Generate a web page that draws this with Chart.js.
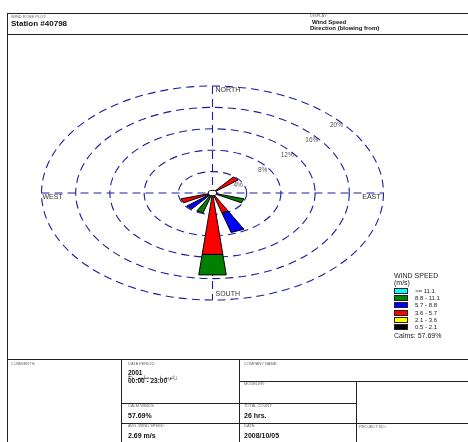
<!DOCTYPE html>
<html>
<head>
<meta charset="utf-8">
<script src="https://cdn.jsdelivr.net/npm/chart.js@4.4.1/dist/chart.umd.min.js"></script>
<style>
html,body{margin:0;padding:0;background:#fff;}
#wrap{position:relative;width:468px;height:442px;overflow:hidden;font-family:"Liberation Sans",Arial,sans-serif;}
#c{position:absolute;left:0;top:0;}
.ln{position:absolute;background:#222;}
.t{position:absolute;white-space:nowrap;line-height:1;transform:translateY(-50%);}
.tiny{font-size:4px;color:#666;}
.val{font-size:7px;font-weight:bold;color:#111;}
.hb{font-weight:bold;color:#111;}
.box{position:absolute;width:12px;height:4px;border:1px solid #222;}
</style>
</head>
<body>
<div id="wrap">
<canvas id="c" width="468" height="442"></canvas>

<!-- frame lines -->
<div class="ln" style="left:7px;top:13px;width:461px;height:1px"></div>
<div class="ln" style="left:7px;top:34px;width:461px;height:1px"></div>
<div class="ln" style="left:7px;top:13px;width:1px;height:429px"></div>
<div class="ln" style="left:7px;top:359px;width:461px;height:1px"></div>
<div class="ln" style="left:121px;top:359px;width:1px;height:83px"></div>
<div class="ln" style="left:239px;top:359px;width:1px;height:83px"></div>
<div class="ln" style="left:356px;top:381px;width:1px;height:61px"></div>
<div class="ln" style="left:239px;top:381px;width:229px;height:1px"></div>
<div class="ln" style="left:121px;top:403px;width:235px;height:1px"></div>
<div class="ln" style="left:121px;top:423px;width:347px;height:1px"></div>

<!-- header -->
<div class="t tiny" style="left:11px;top:16.5px">WIND ROSE PLOT:</div>
<div class="t hb" style="left:11px;top:24px;font-size:8px">Station #40798</div>
<div class="t tiny" style="left:310px;top:16px">DISPLAY:</div>
<div class="t hb" style="left:312px;top:22.3px;font-size:6px">Wind Speed</div>
<div class="t hb" style="left:310px;top:27.5px;font-size:6px">Direction (blowing from)</div>

<!-- footer -->
<div class="t tiny" style="left:11px;top:364px">COMMENTS:</div>
<div class="t tiny" style="left:128px;top:364px">DATA PERIOD:</div>
<div class="t val" style="left:128px;top:372.5px;font-size:6.5px">2001</div>
<div class="t" style="left:128px;top:377.2px;font-size:5px;color:#222;font-family:'DejaVu Sans',sans-serif;word-spacing:1.5px"><span dir="rtl">ژانویه ۱ - دسامبر ۳۱</span></div>
<div class="t val" style="left:128px;top:381.2px;font-size:6.5px">00:00 - 23:00</div>
<div class="t tiny" style="left:244px;top:364px">COMPANY NAME:</div>
<div class="t tiny" style="left:244px;top:384px">MODELER:</div>
<div class="t tiny" style="left:128px;top:406px">CALM WINDS:</div>
<div class="t val" style="left:128px;top:415px">57.69%</div>
<div class="t tiny" style="left:244px;top:406px">TOTAL COUNT:</div>
<div class="t val" style="left:244px;top:415px">26 hrs.</div>
<div class="t tiny" style="left:128px;top:426px">AVG. WIND SPEED:</div>
<div class="t val" style="left:128px;top:435px">2.69 m/s</div>
<div class="t tiny" style="left:244px;top:426px">DATE:</div>
<div class="t val" style="left:244px;top:435px">2008/10/05</div>
<div class="t tiny" style="left:359px;top:427px">PROJECT NO.:</div>

<div id="legend"></div>
</div>

<script>
// ---------- data ----------
const directions = ['N','NNE','NE','ENE','E','ESE','SE','SSE','S','SSW','SW','WSW','W','WNW','NW','NNW'];
const speedBins  = ['0.5 - 2.1','2.1 - 3.6','3.6 - 5.7','5.7 - 8.8','8.8 - 11.1','>= 11.1'];
const binColors  = ['#000000','#ffff00','#ff0000','#0000ff','#008000','#00ffff'];
// frequency (%) per direction, one array per speed class
const freq_0_5_2_1  = [0,0,0,0,0,0,0,0,0,0,0,0,0,0,0,0];
const freq_2_1_3_6  = [0,0,0,0,0,0,0,0,0,0,0,0,0,0,0,0];
const freq_3_6_5_7  = [0,0,3.85,0,0,0,0,3.85,11.54,0,0,3.85,0,0,0,0];
const freq_5_7_8_8  = [0,0,0,0,0,0,0,3.85,0,0,3.85,0,0,0,0,0];
const freq_8_8_11_1 = [0,0,0,0,0,3.85,0,0,3.85,3.85,0,0,0,0,0,0];
const freq_ge_11_1  = [0,0,0,0,0,0,0,0,0,0,0,0,0,0,0,0];
const ringValues = [4,8,12,16,20];
const ringLabels = ['4%','8%','12%','16%','20%'];
const compassLabels = ['NORTH','EAST','SOUTH','WEST'];
const calmsText = 'Calms: 57.69%';

const binFreqs = [freq_0_5_2_1, freq_2_1_3_6, freq_3_6_5_7, freq_5_7_8_8, freq_8_8_11_1, freq_ge_11_1];

// ---------- build wedge datasets ----------
const HALF = 6 * Math.PI / 180;
function pt(r, a){ return {x: r*Math.sin(a), y: r*Math.cos(a)}; }
const datasets = [];
directions.forEach((d, i) => {
  const a = i * 22.5 * Math.PI / 180;
  let r0 = 0;
  binFreqs.forEach((arr, b) => {
    const v = arr[i];
    if (!v) return;
    const r1 = r0 + v;
    let poly;
    if (r0 === 0) poly = [pt(0,a), pt(r1,a-HALF), pt(r1,a+HALF), pt(0,a)];
    else poly = [pt(r0,a-HALF), pt(r1,a-HALF), pt(r1,a+HALF), pt(r0,a+HALF), pt(r0,a-HALF)];
    datasets.push({
      label: d + ' ' + speedBins[b],
      data: poly,
      fill: 'shape',
      backgroundColor: binColors[b],
      borderColor: '#000',
      borderWidth: 1,
      pointRadius: 0,
      tension: 0
    });
    r0 = r1;
  });
});

// ---------- overlay plugin: rings, axes, labels ----------
const rosePlugin = {
  id: 'rose',
  beforeDatasetsDraw(chart){
    const {ctx, scales:{x, y}} = chart;
    const cx = x.getPixelForValue(0), cy = y.getPixelForValue(0);
    const rmax = ringValues[ringValues.length-1];
    ctx.save();
    ctx.strokeStyle = '#1c1ca0';
    ctx.lineWidth = 1.1;
    ctx.setLineDash([8,5]);
    ringValues.forEach(r => {
      ctx.beginPath();
      ctx.ellipse(cx, cy, x.getPixelForValue(r)-cx, cy-y.getPixelForValue(r), 0, 0, Math.PI*2);
      ctx.stroke();
    });
    ctx.beginPath();
    ctx.moveTo(x.getPixelForValue(-rmax), cy); ctx.lineTo(x.getPixelForValue(rmax), cy);
    ctx.moveTo(cx, y.getPixelForValue(rmax)); ctx.lineTo(cx, y.getPixelForValue(-rmax));
    ctx.stroke();
    ctx.restore();
  },
  afterDatasetsDraw(chart){
    const {ctx, scales:{x, y}} = chart;
    const cx = x.getPixelForValue(0), cy = y.getPixelForValue(0);
    const rmax = ringValues[ringValues.length-1];
    ctx.save();
    // calm circle
    ctx.beginPath();
    ctx.ellipse(cx, cy, x.getPixelForValue(0.5)-cx, cy-y.getPixelForValue(0.5), 0, 0, Math.PI*2);
    ctx.fillStyle = '#fff'; ctx.fill();
    ctx.strokeStyle = '#000'; ctx.lineWidth = 1; ctx.stroke();
    // ring labels
    ctx.font = '6.5px "Liberation Sans", Arial, sans-serif';
    ctx.fillStyle = '#555';
    ctx.textAlign = 'center'; ctx.textBaseline = 'top';
    ringValues.forEach((r, k) => {
      const px = x.getPixelForValue(r*Math.SQRT1_2), py = y.getPixelForValue(r*Math.SQRT1_2);
      ctx.fillText(ringLabels[k], px + 1 + r/10, py + 4.5);
    });
    // compass labels
    ctx.font = '7px "Liberation Sans", Arial, sans-serif';
    ctx.fillStyle = '#333';
    ctx.textBaseline = 'middle';
    ctx.textAlign = 'left';
    ctx.fillText(compassLabels[0], cx + 3, y.getPixelForValue(rmax) + 4);
    ctx.fillText(compassLabels[2], cx + 3, y.getPixelForValue(-rmax) - 6);
    ctx.fillText(compassLabels[3], x.getPixelForValue(-rmax) + 1, cy + 4);
    ctx.textAlign = 'right';
    ctx.fillText(compassLabels[1], x.getPixelForValue(rmax) - 3, cy + 4);
    ctx.restore();
  }
};

new Chart(document.getElementById('c'), {
  type: 'line',
  data: { datasets },
  options: {
    responsive: false,
    animation: false,
    devicePixelRatio: 1,
    layout: { padding: { left: 7.3, right: 50.3, top: 32.5, bottom: 88.5 } },
    scales: {
      x: { type: 'linear', min: -24, max: 24, display: false },
      y: { type: 'linear', min: -30, max: 30, display: false }
    },
    plugins: { legend: { display: false }, tooltip: { enabled: false } },
    elements: { point: { radius: 0 }, line: { tension: 0 } }
  },
  plugins: [rosePlugin]
});

// ---------- legend (HTML) ----------
const lg = document.getElementById('legend');
let html = '<div class="t" style="left:394px;top:275.3px;font-size:7px;color:#222">WIND SPEED</div>' +
           '<div class="t" style="left:394px;top:281.7px;font-size:7px;color:#222">(m/s)</div>';
for (let k = 0; k < speedBins.length; k++) {
  const b = speedBins.length - 1 - k;
  const top = 288 + k*7.2;
  html += `<div class="box" style="left:394px;top:${top}px;background:${binColors[b]}"></div>`;
  html += `<div class="t" style="left:415px;top:${top+3}px;font-size:6px;color:#222">${speedBins[b].replace('>','&gt;')}</div>`;
}
html += `<div class="t" style="left:394px;top:335px;font-size:7px;color:#222">${calmsText}</div>`;
lg.innerHTML = html;
</script>
</body>
</html>
